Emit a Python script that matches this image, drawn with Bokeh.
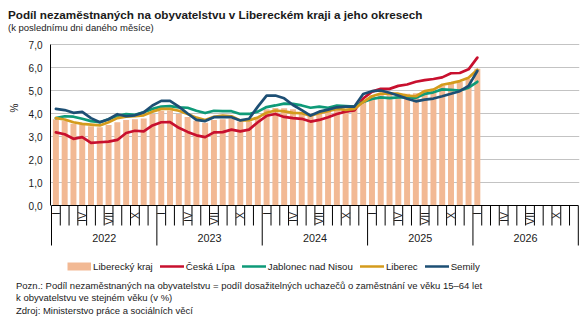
import numpy as np
from bokeh.plotting import figure
from bokeh.layouts import column, row
from bokeh.models import (Range1d, FixedTicker, CustomJSTickFormatter, Legend, LegendItem, Div)
from bokeh.core.properties import value
from bokeh.embed import file_html
from bokeh.resources import INLINE

# ---------------- data (monthly, Jan 2022 - Jan 2026) ----------------
years = ["2022", "2023", "2024", "2025", "2026"]
quarter_labels = ["I", "IV", "VII", "X"]
quarter_month_index = [0, 3, 6, 9]

kraj = [3.75, 3.68, 3.55, 3.52, 3.45, 3.40, 3.50, 3.62, 3.72, 3.75, 3.78, 3.98,
        4.12, 4.13, 3.98, 3.85, 3.68, 3.60, 3.72, 3.75, 3.78, 3.65, 3.65, 3.85,
        4.18, 4.24, 4.23, 4.18, 4.08, 3.98, 4.03, 4.10, 4.16, 4.20, 4.20, 4.50,
        4.78, 4.88, 4.87, 4.88, 4.86, 4.88, 5.02, 5.08, 5.22, 5.30, 5.38, 5.50,
        5.95]
ceska_lipa = [3.18, 3.10, 2.90, 2.97, 2.72, 2.75, 2.78, 2.85, 3.15, 3.25, 3.22, 3.48,
              3.62, 3.63, 3.38, 3.20, 3.05, 2.97, 3.18, 3.19, 3.30, 3.22, 3.30, 3.62,
              3.90, 3.98, 3.85, 3.80, 3.77, 3.65, 3.72, 3.84, 3.98, 4.08, 4.13, 4.65,
              4.95, 5.07, 5.07, 5.20, 5.26, 5.38, 5.45, 5.50, 5.57, 5.75, 5.76, 5.92,
              6.43]
jablonec = [3.80, 3.88, 3.86, 3.77, 3.67, 3.62, 3.75, 3.90, 3.97, 3.94, 4.05, 4.20,
            4.30, 4.32, 4.27, 4.25, 4.12, 4.02, 4.12, 4.10, 4.10, 3.98, 3.98, 4.08,
            4.28, 4.35, 4.43, 4.42, 4.35, 4.25, 4.30, 4.25, 4.34, 4.32, 4.30, 4.50,
            4.63, 4.70, 4.67, 4.70, 4.71, 4.68, 4.85, 4.92, 5.05, 5.03, 5.00, 5.12,
            5.38]
liberec = [3.80, 3.74, 3.62, 3.55, 3.52, 3.48, 3.62, 3.80, 3.86, 3.88, 3.92, 4.08,
           4.20, 4.20, 4.12, 3.98, 3.82, 3.72, 3.86, 3.91, 3.88, 3.70, 3.70, 3.83,
           4.03, 4.13, 4.09, 4.03, 4.01, 3.91, 4.01, 4.10, 4.20, 4.16, 4.20, 4.50,
           4.75, 4.87, 4.86, 4.86, 4.78, 4.75, 4.97, 5.04, 5.25, 5.32, 5.41, 5.55,
           5.90]
semily = [4.20, 4.15, 4.03, 4.07, 3.80, 3.62, 3.75, 3.97, 3.88, 3.92, 4.05, 4.35,
          4.55, 4.55, 4.30, 4.00, 3.72, 3.67, 3.84, 3.84, 3.84, 3.70, 3.77, 4.30,
          4.78, 4.78, 4.66, 4.37, 4.15, 3.91, 4.08, 4.17, 4.27, 4.30, 4.30, 4.85,
          4.97, 5.00, 4.90, 4.78, 4.64, 4.53, 4.60, 4.65, 4.75, 4.86, 4.97, 5.20,
          5.85]
y_ticks = [0, 1, 2, 3, 4, 5, 6, 7]

series = [("Česká Lípa", ceska_lipa, "#C8102E"),
          ("Jablonec nad Nisou", jablonec, "#0E9A78"),
          ("Liberec", liberec, "#D49B1C"),
          ("Semily", semily, "#1D4F74")]
KRAJ_COLOR = "#F2B994"

TITLE = "Podíl nezaměstnaných na obyvatelstvu v Libereckém kraji a jeho okresech"
SUBTITLE = "(k poslednímu dni daného měsíce)"
UNIT = "%"
NOTES = ["Pozn.: Podíl nezaměstnaných na obyvatelstvu = podíl dosažitelných uchazečů o zaměstnání ve věku 15–64 let",
         "k obyvatelstvu ve stejném věku (v %)",
         "Zdroj: Ministerstvo práce a sociálních věcí"]

# ---------------- layout helpers (canvas pixel geometry) ----------------
W, H = 586, 323
TOP_H = 36           # title block height
BOT_Y = 276          # canvas y where notes block starts
SIDE_W = 22          # unit-label strip width
U = 8.78             # px per month
V = 23.0             # px per 1 %
X0_PX, Y0_PX = 51.0, 205.0
FL, FR, FT = 50, 579, 42
FONT = "Liberation Sans"


def px_x(px):
    return (px - X0_PX) / U


def px_y(py):
    return (Y0_PX - py) / V


n_slots = 12 * len(years)
xs = [i + 0.5 for i in range(len(kraj))]

p = figure(width=W - SIDE_W, height=BOT_Y - TOP_H, output_backend="svg", toolbar_location=None,
           x_range=Range1d(px_x(FL), px_x(FR)), y_range=Range1d(px_y(BOT_Y), px_y(FT)),
           x_axis_location=None,
           min_border_left=FL - SIDE_W, min_border_right=W - FR, min_border_top=FT - TOP_H,
           min_border_bottom=0)
p.outline_line_color = None
p.background_fill_color = "white"
p.border_fill_color = "white"

# y axis
yax = p.yaxis[0]
yax.bounds = (0, 7)
yax.ticker = FixedTicker(ticks=y_ticks)
yax.formatter = CustomJSTickFormatter(code="return tick.toFixed(1).replace('.', ',');")
yax.axis_line_color = "black"
yax.major_tick_in = 0
yax.major_tick_out = 0
yax.minor_tick_line_color = None
yax.major_label_standoff = 8
yax.major_label_text_font = FONT
yax.major_label_text_font_size = "10px"
yax.major_label_text_color = "#1a1a1a"

p.ygrid.ticker = FixedTicker(ticks=y_ticks[1:])
p.ygrid.grid_line_color = "#C3C3C3"
p.ygrid.grid_line_width = 1
p.xgrid.visible = False

# bars
p.vbar(x=xs, top=kraj, bottom=0, width=0.68, fill_color=KRAJ_COLOR, line_color=None)

# lines
line_renderers = []
for name, vals, col in series:
    r = p.line(xs, vals, line_width=2.7, line_color=col, line_join="round", line_cap="round")
    line_renderers.append((name, r))

# x axis: baseline, separators, labels
p.segment(x0=[0], y0=[0], x1=[n_slots], y1=[0], line_color="black", line_width=1)
sep_x = list(range(n_slots + 1))
sep_y1 = [px_y(245) if i % 12 == 0 else px_y(225) for i in sep_x]
p.segment(x0=sep_x, y0=[0] * len(sep_x), x1=sep_x, y1=sep_y1, line_color="black", line_width=1)

q_x, q_t = [], []
for yi in range(len(years)):
    for lab, mi in zip(quarter_labels, quarter_month_index):
        q_x.append(yi * 12 + mi + 0.5)
        q_t.append(lab)
p.text(x=q_x, y=[px_y(211.5)] * len(q_x), text=q_t, angle=np.pi / 2,
       text_align="right", text_baseline="middle", text_font=value(FONT),
       text_font_size="10.5px", text_color="#1a1a1a")
p.text(x=[yi * 12 + 6 for yi in range(len(years))], y=[px_y(237.5)] * len(years), text=years,
       text_align="center", text_baseline="middle", text_font=value(FONT),
       text_font_size="10.8px", text_color="#1a1a1a")

# legend (the regional swatch is a thick legend stroke of the bar colour, kept off-view)
swatch = p.line([-30, -29], [-30, -30], line_width=8, line_color=KRAJ_COLOR, line_cap="butt")
items = [LegendItem(label="Liberecký kraj", renderers=[swatch])]
for name, r in line_renderers:
    items.append(LegendItem(label=name, renderers=[r]))
legend = Legend(items=items, orientation="horizontal", location=(67 - FL, BOT_Y - 272),
                glyph_width=24, glyph_height=12, label_height=12, label_width=10,
                label_standoff=2, spacing=7, padding=0, margin=0,
                border_line_color=None, background_fill_alpha=0,
                label_text_font=FONT, label_text_font_size="9.7px", label_text_color="#1a1a1a")
p.add_layout(legend, "center")

# title block, unit strip and notes block
base = "position:absolute;left:{l}px;top:{t}px;white-space:nowrap;color:#1a1a1a;font-family:'Liberation Sans';"
top_html = (
    f'<div style="position:relative;width:{W}px;height:{TOP_H}px;margin:0;padding:0;">'
    f'<div style="{base.format(l=8, t=8)}font-weight:bold;font-size:11.7px;line-height:14px;">{TITLE}</div>'
    f'<div style="{base.format(l=8, t=22.2)}font-size:9.5px;line-height:12px;">{SUBTITLE}</div>'
    '</div>')
side_h = BOT_Y - TOP_H
side_html = (
    f'<div style="position:relative;width:{SIDE_W}px;height:{side_h}px;margin:0;padding:0;">'
    f'<div style="{base.format(l=15, t=108 - TOP_H)}font-size:10px;line-height:12px;'
    f'transform:translate(-50%,-50%) rotate(-90deg);">{UNIT}</div>'
    '</div>')
note_tops = [4.0, 16.0, 28.5]
bot_html = f'<div style="position:relative;width:{W}px;height:{H - BOT_Y}px;margin:0;padding:0;">'
for t, line in zip(note_tops, NOTES):
    bot_html += f'<div style="{base.format(l=16, t=t)}font-size:9.5px;line-height:12.5px;">{line}</div>'
bot_html += '</div>'

top_div = Div(text=top_html, width=W, height=TOP_H, styles={"margin": "0", "padding": "0"})
side_div = Div(text=side_html, width=SIDE_W, height=side_h, styles={"margin": "0", "padding": "0"})
bot_div = Div(text=bot_html, width=W, height=H - BOT_Y, styles={"margin": "0", "padding": "0"})

layout = column(top_div, row(side_div, p, spacing=0), bot_div, spacing=0)

open("out.html", "w").write(file_html(layout, INLINE))
